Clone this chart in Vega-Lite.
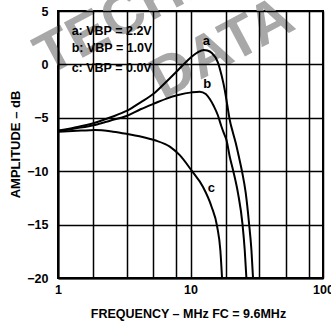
{
  "$schema": "https://vega.github.io/schema/vega-lite/v6.json",
  "width": 265,
  "height": 267,
  "autosize": "none",
  "padding": {"left": 58, "top": 11, "right": 8, "bottom": 43},
  "background": "white",
  "config": {"view": {"stroke": "black", "strokeWidth": 2}, "font": "Liberation Sans"},
  "datasets": {
    "watermark": [
      {"text": "TECHNICAL", "f": 0.841, "db": -1.09},
      {"text": "DATA", "f": 6.18, "db": -3.33}
    ],
    "curves": [
      {"series": "a", "f": 1, "db": -6.2}, {"series": "a", "f": 1.34, "db": -5.9}, {"series": "a", "f": 1.9, "db": -5.46},
      {"series": "a", "f": 2.5, "db": -4.95}, {"series": "a", "f": 3.29, "db": -4.36}, {"series": "a", "f": 4.2, "db": -3.55},
      {"series": "a", "f": 5.38, "db": -2.65}, {"series": "a", "f": 6.6, "db": -1.6}, {"series": "a", "f": 8.07, "db": -0.52},
      {"series": "a", "f": 10.2, "db": 0.72}, {"series": "a", "f": 11.4, "db": 1.15}, {"series": "a", "f": 12.6, "db": 1.35},
      {"series": "a", "f": 13.4, "db": 1.3}, {"series": "a", "f": 14.47, "db": 1.07}, {"series": "a", "f": 16.06, "db": 0.22},
      {"series": "a", "f": 17.21, "db": -1.09}, {"series": "a", "f": 18.14, "db": -2.4}, {"series": "a", "f": 18.94, "db": -3.8},
      {"series": "a", "f": 19.78, "db": -5.21}, {"series": "a", "f": 20.84, "db": -6.33}, {"series": "a", "f": 21.95, "db": -7.36},
      {"series": "a", "f": 23.12, "db": -8.58}, {"series": "a", "f": 24.36, "db": -9.89}, {"series": "a", "f": 26.11, "db": -12.04},
      {"series": "a", "f": 27.64, "db": -14.85}, {"series": "a", "f": 28.83, "db": -17.38}, {"series": "a", "f": 29.64, "db": -20},
      {"series": "b", "f": 1, "db": -6.25}, {"series": "b", "f": 1.34, "db": -6.0}, {"series": "b", "f": 1.9, "db": -5.67},
      {"series": "b", "f": 2.5, "db": -5.25}, {"series": "b", "f": 3.29, "db": -4.83}, {"series": "b", "f": 4.2, "db": -4.2},
      {"series": "b", "f": 5.38, "db": -3.64}, {"series": "b", "f": 6.6, "db": -3.2}, {"series": "b", "f": 8.07, "db": -2.87},
      {"series": "b", "f": 10.2, "db": -2.62}, {"series": "b", "f": 11.75, "db": -2.55}, {"series": "b", "f": 13.04, "db": -2.77},
      {"series": "b", "f": 13.98, "db": -3.24}, {"series": "b", "f": 14.98, "db": -3.9}, {"series": "b", "f": 16.06, "db": -4.74},
      {"series": "b", "f": 17.07, "db": -5.77}, {"series": "b", "f": 17.82, "db": -6.42}, {"series": "b", "f": 18.68, "db": -7.08},
      {"series": "b", "f": 19.78, "db": -8.64}, {"series": "b", "f": 20.94, "db": -9.89}, {"series": "b", "f": 22.84, "db": -12.07},
      {"series": "b", "f": 24.65, "db": -14.88}, {"series": "b", "f": 25.66, "db": -17.38}, {"series": "b", "f": 26.42, "db": -20},
      {"series": "c", "f": 1, "db": -6.3}, {"series": "c", "f": 1.5, "db": -6.2}, {"series": "c", "f": 1.9, "db": -6.15},
      {"series": "c", "f": 2.6, "db": -6.3}, {"series": "c", "f": 3.29, "db": -6.5}, {"series": "c", "f": 4.2, "db": -6.75},
      {"series": "c", "f": 5.38, "db": -7.1}, {"series": "c", "f": 6.98, "db": -7.7}, {"series": "c", "f": 8.3, "db": -8.5},
      {"series": "c", "f": 10.2, "db": -9.95}, {"series": "c", "f": 12.4, "db": -11.45}, {"series": "c", "f": 14.4, "db": -13.3},
      {"series": "c", "f": 15.9, "db": -15.2}, {"series": "c", "f": 16.8, "db": -17.4}, {"series": "c", "f": 17.3, "db": -20}
    ],
    "curveLabels": [
      {"text": "a", "f": 13.2, "db": 2.22},
      {"text": "b", "f": 13.4, "db": -1.86},
      {"text": "c", "f": 14.4, "db": -11.6}
    ],
    "legend": [
      {"text": "a: VBP = 2.2V", "f": 1.268, "db": 3.16},
      {"text": "b: VBP = 1.0V", "f": 1.268, "db": 1.51},
      {"text": "c: VBP = 0.0V", "f": 1.268, "db": -0.31}
    ]
  },
  "encoding": {
    "x": {
      "field": "f", "type": "quantitative",
      "scale": {"type": "log", "domain": [1, 100], "nice": false},
      "axis": {
        "title": "FREQUENCY – MHz FC = 9.6MHz",
        "values": [1, 1.85, 3.3, 5.25, 7.8, 10, 18.5, 33, 53, 78, 100],
        "labelExpr": "datum.value == 1 || datum.value == 10 || datum.value == 100 ? format(datum.value, 'd') : ''",
        "labelFlush": false, "labelOverlap": false, "ticks": false, "labelPadding": 5,
        "labelFont": "Liberation Sans", "labelFontSize": 12.5, "labelFontWeight": "bold", "labelColor": "black",
        "grid": true, "gridColor": "black", "gridWidth": 1.5, "gridOpacity": 1,
        "domainColor": "black", "domainWidth": 2,
        "titleFont": "Liberation Sans", "titleFontSize": 12.5, "titleFontWeight": "bold", "titleColor": "black",
        "titleX": 130, "titleY": 35, "titleBaseline": "middle", "titleAlign": "center", "zindex": 1
      }
    },
    "y": {
      "field": "db", "type": "quantitative",
      "scale": {"domain": [-20, 5], "nice": false},
      "axis": {
        "title": "AMPLITUDE – dB",
        "values": [-20, -15, -10, -5, 0, 5],
        "labelFlush": false, "labelOverlap": false, "ticks": false, "labelPadding": 10,
        "labelFont": "Liberation Sans", "labelFontSize": 12.5, "labelFontWeight": "bold", "labelColor": "black",
        "grid": true, "gridColor": "black", "gridWidth": 1.5, "gridOpacity": 1,
        "domainColor": "black", "domainWidth": 2,
        "titleFont": "Liberation Sans", "titleFontSize": 13, "titleFontWeight": "bold", "titleColor": "black",
        "titleX": -43, "titleY": 133, "titleAngle": -90, "titleBaseline": "middle", "titleAlign": "center", "zindex": 1
      }
    }
  },
  "layer": [
    {
      "data": {"name": "watermark"},
      "mark": {"type": "text", "align": "left", "baseline": "alphabetic", "angle": -28, "fontSize": 58, "fontWeight": "bold", "font": "Liberation Sans", "color": "#a8a8a8"},
      "encoding": {"text": {"field": "text"}}
    },
    {
      "data": {"name": "curves"},
      "mark": {"type": "line", "interpolate": "monotone", "color": "black", "strokeWidth": 2, "clip": true},
      "encoding": {"detail": {"field": "series"}}
    },
    {
      "data": {"name": "curveLabels"},
      "mark": {"type": "text", "align": "center", "baseline": "middle", "fontSize": 13, "fontWeight": "bold", "font": "Liberation Sans", "color": "black"},
      "encoding": {"text": {"field": "text"}}
    },
    {
      "data": {"name": "legend"},
      "mark": {"type": "text", "align": "left", "baseline": "middle", "fontSize": 12.5, "fontWeight": "bold", "font": "Liberation Sans", "color": "black"},
      "encoding": {"text": {"field": "text"}}
    }
  ]
}
